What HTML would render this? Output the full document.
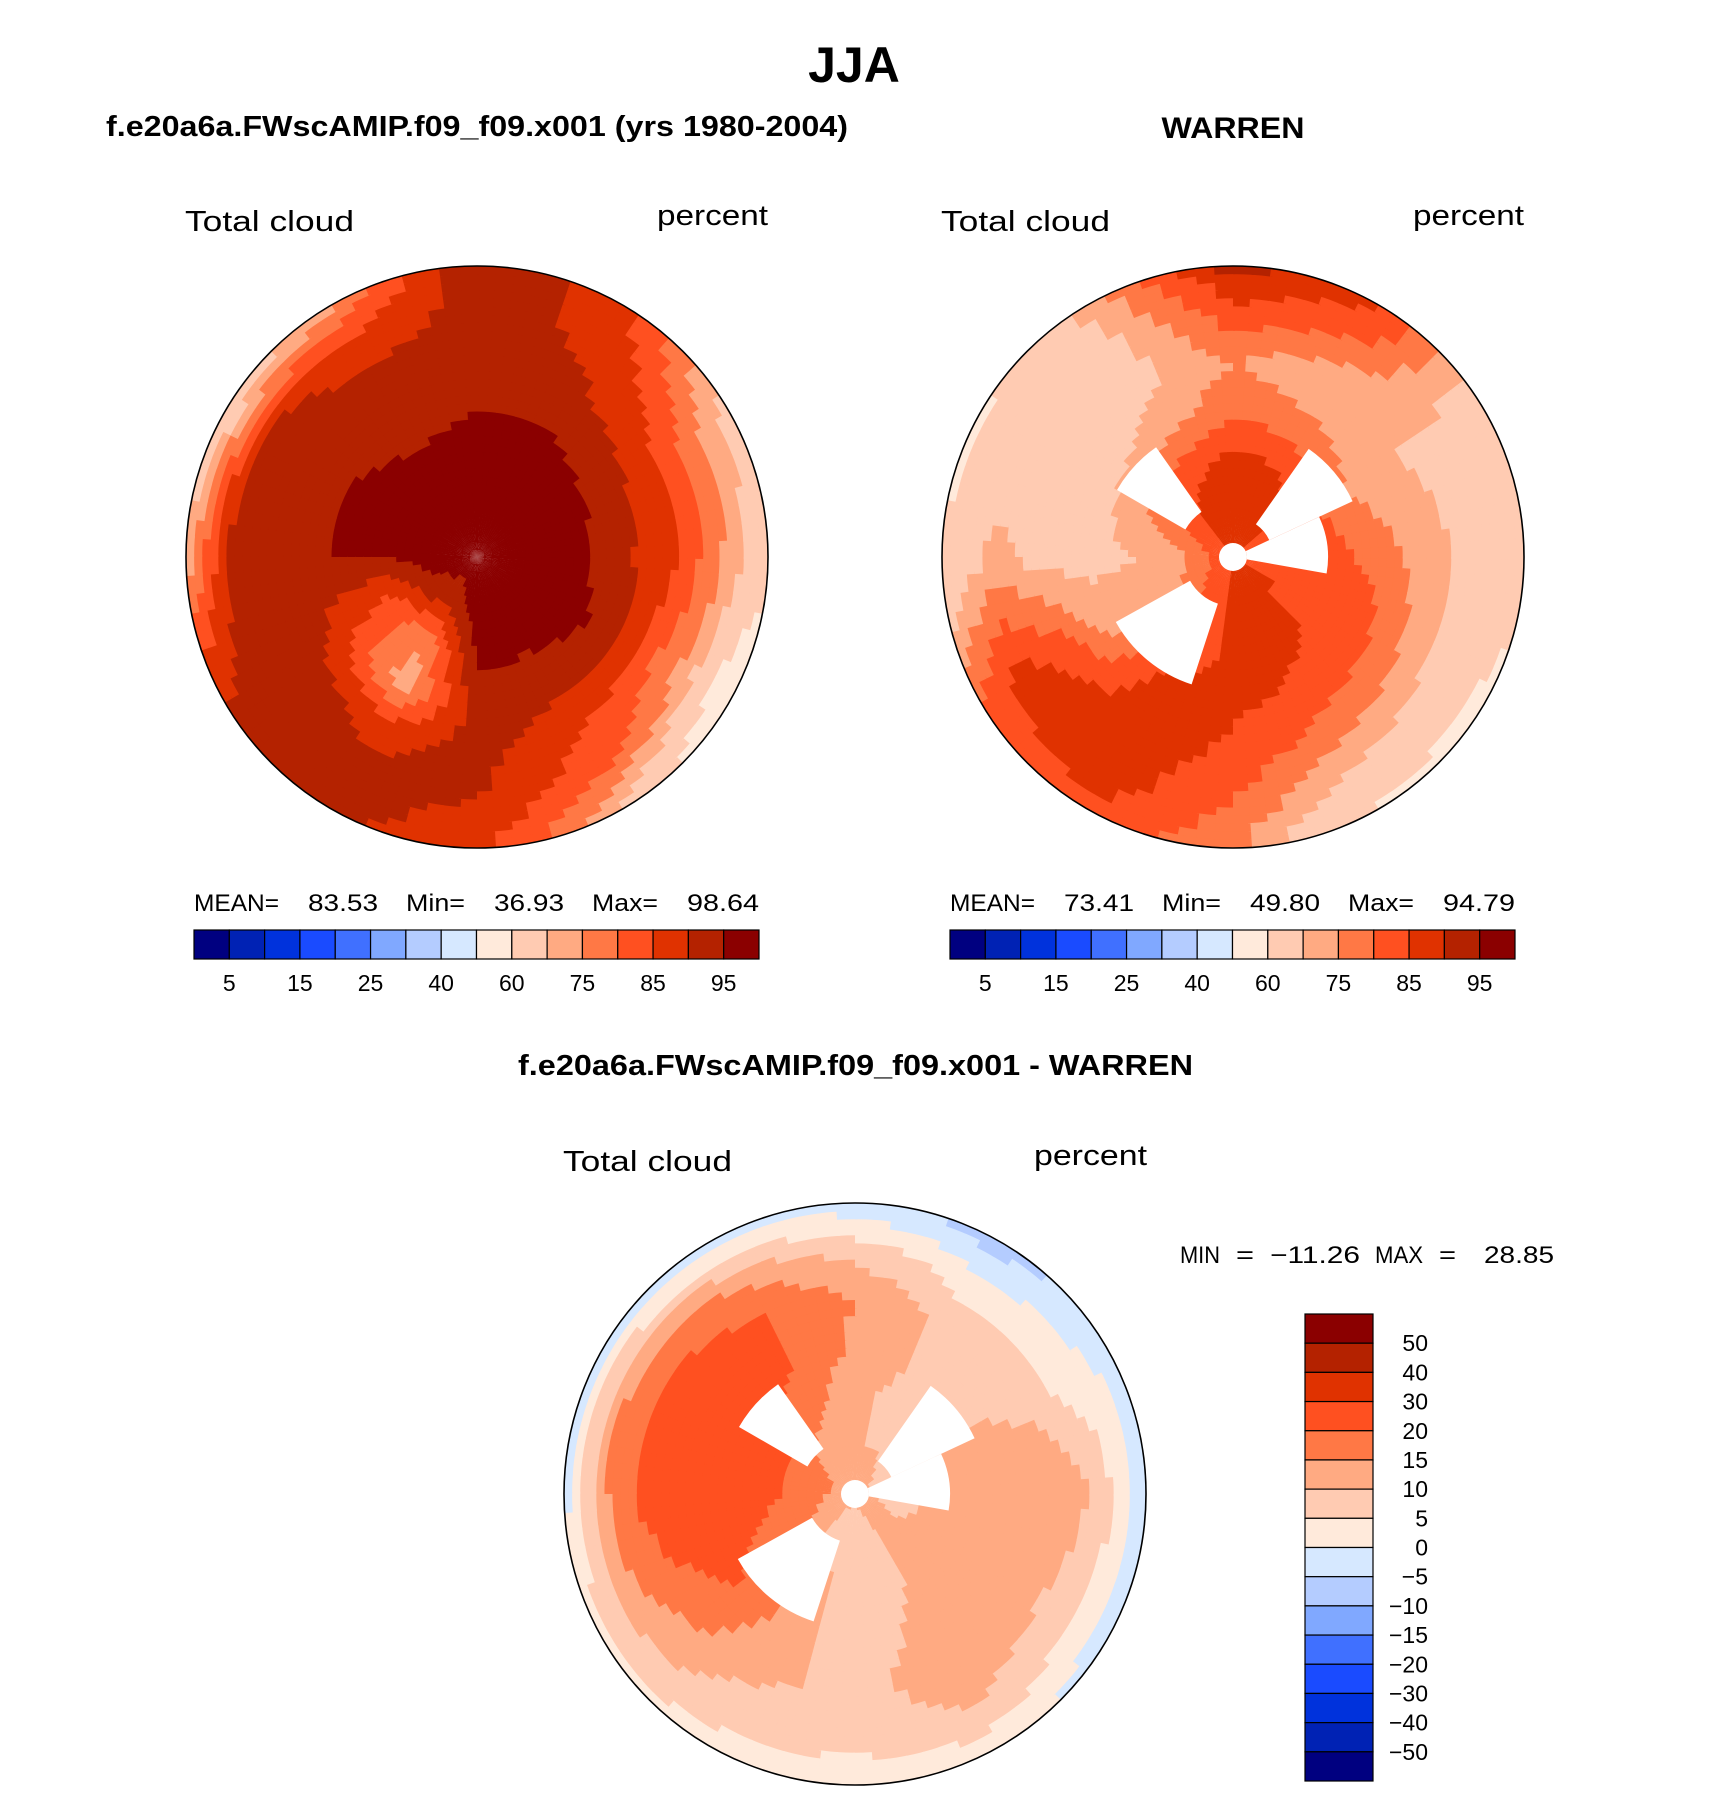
<!DOCTYPE html>
<html><head><meta charset="utf-8"><style>
html,body{margin:0;padding:0;background:#fff}
svg{display:block}
text{font-family:"Liberation Sans",sans-serif;fill:#000}
</style></head><body>
<svg id="fig" width="1710" height="1794" viewBox="0 0 1710 1794" xmlns="http://www.w3.org/2000/svg">
<text x="854" y="82" font-size="50" font-weight="bold" text-anchor="middle">JJA</text>
<text x="106" y="136" font-size="29" font-weight="bold" textLength="742" lengthAdjust="spacingAndGlyphs">f.e20a6a.FWscAMIP.f09_f09.x001 (yrs 1980-2004)</text>
<text x="1233" y="138" font-size="30" font-weight="bold" text-anchor="middle" textLength="143" lengthAdjust="spacingAndGlyphs">WARREN</text>
<text x="185" y="231" font-size="29" textLength="169" lengthAdjust="spacingAndGlyphs">Total cloud</text>
<text x="657" y="225" font-size="29" textLength="111" lengthAdjust="spacingAndGlyphs">percent</text>
<text x="941" y="231" font-size="29" textLength="169" lengthAdjust="spacingAndGlyphs">Total cloud</text>
<text x="1413" y="225" font-size="29" textLength="111" lengthAdjust="spacingAndGlyphs">percent</text>
<g font-size="24">
<text x="194" y="911" textLength="85" lengthAdjust="spacingAndGlyphs">MEAN=</text>
<text x="308" y="911" textLength="70" lengthAdjust="spacingAndGlyphs">83.53</text>
<text x="406" y="911" textLength="59" lengthAdjust="spacingAndGlyphs">Min=</text>
<text x="494" y="911" textLength="70" lengthAdjust="spacingAndGlyphs">36.93</text>
<text x="592" y="911" textLength="66" lengthAdjust="spacingAndGlyphs">Max=</text>
<text x="687" y="911" textLength="72" lengthAdjust="spacingAndGlyphs">98.64</text>
</g>
<g font-size="24">
<text x="950" y="911" textLength="85" lengthAdjust="spacingAndGlyphs">MEAN=</text>
<text x="1064" y="911" textLength="70" lengthAdjust="spacingAndGlyphs">73.41</text>
<text x="1162" y="911" textLength="59" lengthAdjust="spacingAndGlyphs">Min=</text>
<text x="1250" y="911" textLength="70" lengthAdjust="spacingAndGlyphs">49.80</text>
<text x="1348" y="911" textLength="66" lengthAdjust="spacingAndGlyphs">Max=</text>
<text x="1443" y="911" textLength="72" lengthAdjust="spacingAndGlyphs">94.79</text>
</g>
<text x="518" y="1075" font-size="29" font-weight="bold" textLength="675" lengthAdjust="spacingAndGlyphs">f.e20a6a.FWscAMIP.f09_f09.x001 - WARREN</text>
<text x="563" y="1171" font-size="29" textLength="169" lengthAdjust="spacingAndGlyphs">Total cloud</text>
<text x="1034" y="1165" font-size="29" textLength="113" lengthAdjust="spacingAndGlyphs">percent</text>
<g font-size="24">
<text x="1180" y="1263" textLength="40" lengthAdjust="spacingAndGlyphs">MIN</text>
<text x="1236" y="1263" textLength="18" lengthAdjust="spacingAndGlyphs">=</text>
<text x="1270" y="1263" textLength="90" lengthAdjust="spacingAndGlyphs">−11.26</text>
<text x="1375" y="1263" textLength="48" lengthAdjust="spacingAndGlyphs">MAX</text>
<text x="1439" y="1263" textLength="17" lengthAdjust="spacingAndGlyphs">=</text>
<text x="1484" y="1263" textLength="70" lengthAdjust="spacingAndGlyphs">28.85</text>
</g>
<g id="maps"></g>
<g id="bars"></g>
</svg>
<script>
const colors=["#000080","#0022b4","#0032dc","#1a4bff","#4070ff","#80a8ff","#b4ccff","#d6e8ff","#ffeadb","#ffcbb2","#ffaa82","#ff7845","#ff5020","#e03200","#b42200","#8b0000"];
const absLevels=[5,10,15,20,25,30,40,50,60,70,75,80,85,90,95];
const absTickLabels=["5","15","25","40","60","75","85","95"];
const diffLevels=[-50,-40,-30,-20,-15,-10,-5,0,5,10,15,20,30,40,50];
const diffTickLabels=["50","40","30","20","15","10","5","0","−5","−10","−15","−20","−30","−40","−50"];
const ringFrac=[0,0.17,0.33,0.5,0.67,0.83,1];
// sectors: screen angle 0=right,30,...,330 clockwise
const modelGrid=[
[97,97,97,97,97,97,97,97,97,97,97,97],
[97,97,97,97,93,94,97,97,97,97,97,97],
[97,97,96,96,76,82,95,97,97,97,97,97],
[91,94,92,93,72,86,95,95,93,95,95,93],
[86,82,86,92,88,93,95,93,92,93,91,86],
[76,72,82,90,92,93,93,91,87,92,89,78],
[64,48,70,87,91,90,72,62,74,95,87,66]];
const warrenGrid=[
[85,85,85,85,85,85,85,85,85,85,85,85],
[84,85,85,86,82,76,74,80,87,88,87,84],
[82,84,86,87,80,72,70,75,83,87,85,80],
[78,82,84,86,87,74,68,68,72,79,77,73],
[72,74,78,84,88,84,68,66,68,75,70,70],
[68,66,70,80,88,87,72,66,68,83,79,68],
[64,57,58,76,84,80,60,58,72,92,86,66]];
const diffGrid=[
[11,11,11,11,11,11,11,11,11,11,11,11],
[8,10,10,6,8,15,18,18,12,10,10,8],
[12,12,10,6,15,18,22,22,18,11,8,10],
[14,14,12,6,14,22,24,24,21,14,9,10],
[15,12,14,8,12,18,24,24,21,15,8,8],
[9,6,10,6,8,13,17,17,14,8,2,2],
[-3,-4,2,3,3,4,-2,-3,-2,-3,-8,-2]];
// missing-data wedges [angle start, angle end, inner px, outer px]
const wedgeList=[[210,235,55,134],[305,335,40,132],[335,370,14,95],[108,151,49,134]];

const NS="http://www.w3.org/2000/svg";
function colorIdx(v,levels){let i=0;while(i<levels.length&&v>=levels[i])i++;return i;}
function sample(grid,rf,ang){
  const a=((ang%360)+360)%360/30;const s0=Math.floor(a)%12,s1=(s0+1)%12,ta=a-Math.floor(a);
  let k=0;while(k<ringFrac.length-2&&rf>ringFrac[k+1])k++;
  const tr=Math.min(1,Math.max(0,(rf-ringFrac[k])/(ringFrac[k+1]-ringFrac[k])));
  const g0=grid[k],g1=grid[k+1];
  const v0=g0[s0]*(1-ta)+g0[s1]*ta,v1=g1[s0]*(1-ta)+g1[s1]*ta;
  return v0*(1-tr)+v1*tr;
}
function arcPath(cx,cy,r0,r1,a0,a1){
  const d=Math.PI/180,p=(r,a)=>(cx+r*Math.cos(a*d)).toFixed(1)+","+(cy+r*Math.sin(a*d)).toFixed(1);
  const large=(a1-a0)>180?1:0;
  if(r0<=0.5) return "M"+cx+","+cy+"L"+p(r1,a0)+"A"+r1+","+r1+" 0 "+large+" 1 "+p(r1,a1)+"Z";
  return "M"+p(r0,a0)+"L"+p(r1,a0)+"A"+r1+","+r1+" 0 "+large+" 1 "+p(r1,a1)+"L"+p(r0,a1)+"A"+r0+","+r0+" 0 "+large+" 0 "+p(r0,a0)+"Z";
}
function drawMap(name,cx,cy,R,grid,levels,wedges){
  const g=document.createElementNS(NS,"g");
  
  
  document.getElementById("maps").appendChild(g);
  const NR=36,NA=96;
  for(let i=0;i<NR;i++){
    const r0=R*i/NR,r1=R*(i+1)/NR+0.6;
    for(let j=0;j<NA;j++){
      const a0=360*j/NA,a1=360*(j+1)/NA+0.5;
      const v=sample(grid,(i+0.5)/NR,(j+0.5)*360/NA);
      const p=document.createElementNS(NS,"path");
      p.setAttribute("d",arcPath(cx,cy,r0,Math.min(r1,R),a0,a1));
      p.setAttribute("fill",colors[Math.min(colors.length-1,colorIdx(v,levels))]);
      
      
      g.appendChild(p);
    }
  }
  if(wedges){
    wedges.forEach(w=>{
      const p=document.createElementNS(NS,"path");
      p.setAttribute("d",arcPath(cx,cy,w[2],w[3],w[0],w[1]));
      p.setAttribute("fill","#fff");
      
      
      g.appendChild(p);
    });
    const c=document.createElementNS(NS,"circle");
    c.setAttribute("cx",cx);c.setAttribute("cy",cy);c.setAttribute("r",14);c.setAttribute("fill","#fff");
    
    
    g.appendChild(c);
  }
  const b=document.createElementNS(NS,"circle");
  b.setAttribute("cx",cx);b.setAttribute("cy",cy);b.setAttribute("r",R);
  b.setAttribute("fill","none");b.setAttribute("stroke","#000");b.setAttribute("stroke-width","1.6");
  
  
  g.appendChild(b);
}
drawMap("model-map",477,557,291,modelGrid,absLevels,null);
drawMap("warren-map",1233,557,291,warrenGrid,absLevels,wedgeList);
drawMap("difference-map",855,1494,291,diffGrid,diffLevels,wedgeList);

function hBar(name,x0,y0,w,h){
  const g=document.createElementNS(NS,"g");
  
  
  document.getElementById("bars").appendChild(g);
  const bw=w/colors.length;
  colors.forEach((c,i)=>{
    const r=document.createElementNS(NS,"rect");
    r.setAttribute("x",x0+i*bw);r.setAttribute("y",y0);r.setAttribute("width",bw);r.setAttribute("height",h);
    r.setAttribute("fill",c);r.setAttribute("stroke","#000");r.setAttribute("stroke-width","1.2");
    
    
    g.appendChild(r);
  });
  absTickLabels.forEach((t,k)=>{
    const tx=document.createElementNS(NS,"text");
    tx.setAttribute("x",x0+(2*k+1)*bw);tx.setAttribute("y",y0+h+32);
    tx.setAttribute("font-size","23");tx.setAttribute("text-anchor","middle");
    tx.textContent=t;
    
    
    g.appendChild(tx);
  });
}
hBar("model-colorbar",194,930,565,29);
hBar("warren-colorbar",950,930,565,29);
(function(){
  const g=document.createElementNS(NS,"g");
  
  
  document.getElementById("bars").appendChild(g);
  const x0=1305,y0=1314,w=68,H=467,bh=H/colors.length;
  colors.slice().reverse().forEach((c,i)=>{
    const r=document.createElementNS(NS,"rect");
    r.setAttribute("x",x0);r.setAttribute("y",y0+i*bh);r.setAttribute("width",w);r.setAttribute("height",bh);
    r.setAttribute("fill",c);r.setAttribute("stroke","#000");r.setAttribute("stroke-width","1.2");
    
    
    g.appendChild(r);
  });
  diffTickLabels.forEach((t,k)=>{
    const tx=document.createElementNS(NS,"text");
    tx.setAttribute("x",x0+w+55);tx.setAttribute("y",y0+(k+1)*bh+8);
    tx.setAttribute("font-size","23");tx.setAttribute("text-anchor","end");
    tx.textContent=t;
    
    
    g.appendChild(tx);
  });
})();
</script>
</body></html>
